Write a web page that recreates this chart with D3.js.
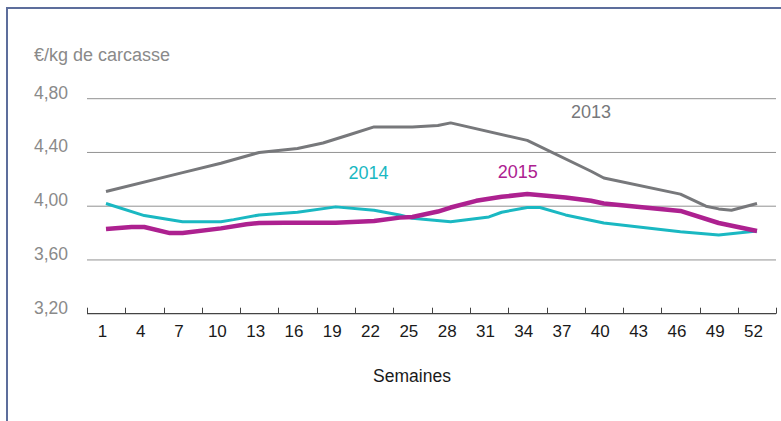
<!DOCTYPE html>
<html>
<head>
<meta charset="utf-8">
<script src="https://cdn.jsdelivr.net/npm/d3@7"></script>
<style>
  body { margin: 0; background: #fff; }
  svg { display: block; font-family: "Liberation Sans", Arial, sans-serif; }
</style>
</head>
<body>
<svg id="chart" width="781" height="421"></svg>
<script>
// weeks (x) and prices in €/kg (y)
const weeks2013 = [1, 7, 10, 13, 16, 18, 20, 22, 25, 27, 28, 34, 39, 40, 46, 48, 49, 50, 52];
const price2013 = [4.11, 4.25, 4.32, 4.40, 4.43, 4.47, 4.53, 4.59, 4.59, 4.60, 4.62, 4.49, 4.26, 4.21, 4.09, 4.00, 3.98, 3.97, 4.02];

const weeks2014 = [1, 4, 7, 10, 11, 13, 16, 19, 22, 24, 25, 28, 31, 32, 34, 35, 37, 40, 46, 49, 52];
const price2014 = [4.02, 3.93, 3.885, 3.885, 3.90, 3.935, 3.955, 3.995, 3.97, 3.935, 3.91, 3.885, 3.92, 3.955, 3.99, 3.99, 3.935, 3.875, 3.81, 3.785, 3.815];

const weeks2015 = [1, 3, 4, 6, 7, 10, 12, 13, 15, 19, 22, 24, 25, 27, 28, 30, 32, 34, 37, 39, 40, 46, 49, 52];
const price2015 = [3.83, 3.845, 3.845, 3.80, 3.80, 3.835, 3.865, 3.875, 3.877, 3.877, 3.89, 3.915, 3.92, 3.96, 3.99, 4.04, 4.07, 4.09, 4.065, 4.04, 4.02, 3.965, 3.875, 3.815];

const weekLabels = d3.range(1, 53, 3);        // 1, 4, ... 52
const yTicks = [3.2, 3.6, 4.0, 4.4, 4.8];

const series = [
  { name: "2013", weeks: weeks2013, values: price2013, color: "#77787b", width: 3, label: [591, 4.66] },
  { name: "2014", weeks: weeks2014, values: price2014, color: "#1ab8c2", width: 3, label: [368.5, 4.20] },
  { name: "2015", weeks: weeks2015, values: price2015, color: "#ad2190", width: 4.5, label: [517.7, 4.21] },
];

const svg = d3.select("#chart");

const x = d3.scaleLinear().domain([1, 52]).range([106, 757]);
const y = d3.scaleLinear().domain([3.2, 4.8]).range([313.7, 98.7]);
const left = 87, right = 776;

// frame
svg.append("path")
  .attr("d", "M7,421V8H781")
  .attr("fill", "none")
  .attr("stroke", "#5d6e9c")
  .attr("stroke-width", 2);

// gridlines
svg.append("g")
  .selectAll("line")
  .data(yTicks.filter(d => d > 3.2))
  .join("line")
  .attr("x1", left).attr("x2", right)
  .attr("y1", d => y(d)).attr("y2", d => y(d))
  .attr("stroke", "#929292")
  .attr("stroke-width", 1);

// y labels
const fmt = d => d3.format(".2f")(d).replace(".", ",");
svg.append("g")
  .selectAll("text")
  .data(yTicks)
  .join("text")
  .attr("x", 34)
  .attr("y", d => y(d))
  .attr("fill", "#8a8a8a")
  .attr("font-size", 17.5)
  .text(fmt);

svg.append("text")
  .attr("x", 34).attr("y", 61)
  .attr("fill", "#8a8a8a")
  .attr("font-size", 18)
  .text("€/kg de carcasse");

// x axis
const axisY = y(3.2);
svg.append("line")
  .attr("x1", left).attr("x2", right)
  .attr("y1", axisY).attr("y2", axisY)
  .attr("stroke", "#444")
  .attr("stroke-width", 1.2);

const tickWeeks = d3.range(19).map(k => 3 * k - 0.49);
svg.append("g")
  .selectAll("line")
  .data(tickWeeks)
  .join("line")
  .attr("x1", d => Math.round(x(d)) + 0.5).attr("x2", d => Math.round(x(d)) + 0.5)
  .attr("y1", axisY - 6).attr("y2", axisY)
  .attr("stroke", "#444")
  .attr("stroke-width", 1);

svg.append("g")
  .selectAll("text")
  .data(weekLabels)
  .join("text")
  .attr("x", d => x(d) - 3.5)
  .attr("y", 337)
  .attr("text-anchor", "middle")
  .attr("fill", "#1a1a1a")
  .attr("font-size", 17)
  .text(d => d);

svg.append("text")
  .attr("x", 412).attr("y", 382)
  .attr("text-anchor", "middle")
  .attr("fill", "#1a1a1a")
  .attr("font-size", 17.5)
  .text("Semaines");

// lines
const line = d3.line().x(d => x(d[0])).y(d => y(d[1]));
svg.append("g")
  .selectAll("path")
  .data(series)
  .join("path")
  .attr("d", s => line(d3.zip(s.weeks, s.values)))
  .attr("fill", "none")
  .attr("stroke", s => s.color)
  .attr("stroke-width", s => s.width)
  .attr("stroke-linejoin", "round");

// series labels
svg.append("g")
  .selectAll("text")
  .data(series)
  .join("text")
  .attr("x", s => s.label[0])
  .attr("y", s => y(s.label[1]))
  .attr("text-anchor", "middle")
  .attr("fill", s => s.color)
  .attr("font-size", 18)
  .text(s => s.name);
</script>
</body>
</html>
